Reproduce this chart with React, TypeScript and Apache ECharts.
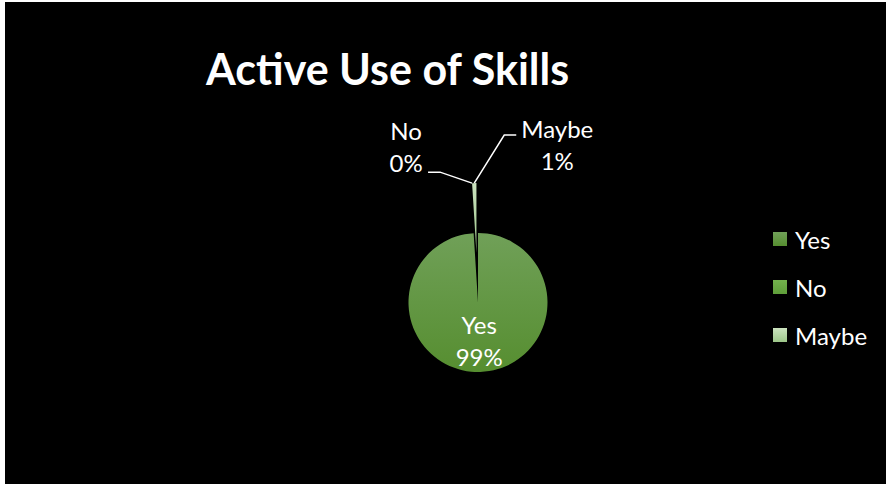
import React, { useEffect, useRef } from 'react';
import * as echarts from 'echarts';

const categories: string[] = ['Yes', 'No', 'Maybe'];
const values: number[] = [99, 0, 1];
const explodedName = 'Maybe';

const FONT = 'Lato, "Open Sans", sans-serif';

export default function App() {
  const ref = useRef<HTMLDivElement>(null);
  useEffect(() => {
    if (!ref.current) return;
    const chart = echarts.init(ref.current, null, { renderer: 'svg' });
    const grad = (top: string, bottom: string) =>
      new echarts.graphic.LinearGradient(0, 0, 0, 1, [
        { offset: 0, color: top },
        { offset: 1, color: bottom },
      ]);
    const palette = [
      grad('#70a058', '#568e30'),
      grad('#73b24d', '#5f9e3a'),
      grad('#cbe2bf', '#9cc689'),
    ];
    const center = [473, 300.5];
    const radius = 69.5;
    const explodeDist = 50;
    // mid angle of the exploded slice, computed from the data
    const total = values.reduce((a, b) => a + b, 0);
    const exIdx = categories.indexOf(explodedName);
    const before = values.slice(0, exIdx).reduce((a, b) => a + b, 0);
    const midFrac = (before + values[exIdx] / 2) / total;
    const theta = ((90 - 360 * midFrac) * Math.PI) / 180;
    const exCenter = [
      center[0] + explodeDist * Math.cos(theta),
      center[1] - explodeDist * Math.sin(theta),
    ];

    const mainData = categories.map((name, i) => ({
      name,
      value: values[i],
      itemStyle: { color: name === explodedName ? 'transparent' : palette[i] },
      label: { show: i === 0, position: 'inside' as const },
      labelLine: { show: false },
    }));
    const exData = categories.map((name, i) => ({
      name,
      value: values[i],
      itemStyle: { color: name === explodedName ? palette[i] : 'transparent' },
      label: { show: i !== 0, position: 'outside' as const },
      labelLine: { show: i !== 0 },
    }));
    const labelStyle = {
      formatter: '{b}\n{d}%',
      color: '#fff',
      fontSize: 24,
      lineHeight: 32,
      fontFamily: FONT,
      align: 'center' as const,
    };
    chart.setOption({
      animation: false,
      backgroundColor: '#000',
      title: {
        text: 'Active Use of Skills',
        left: 201,
        top: 45,
        padding: 0,
        textStyle: { color: '#fff', fontSize: 43, fontWeight: 'bold', fontFamily: FONT },
      },
      legend: {
        orient: 'vertical',
        left: 768,
        top: 225,
        padding: 0,
        icon: 'rect',
        itemWidth: 14,
        itemHeight: 14,
        itemGap: 24,
        selectedMode: false,
        data: categories.map((name, i) => ({ name, itemStyle: { color: palette[i] } })),
        textStyle: { color: '#fff', fontSize: 24, lineHeight: 24, fontFamily: FONT, padding: [0, 0, 0, 3] },
      },
      series: [
        {
          type: 'pie',
          center,
          radius,
          startAngle: 90,
          clockwise: true,
          silent: true,
          avoidLabelOverlap: false,
          percentPrecision: 0,
          label: labelStyle,
          data: mainData,
        },
        {
          type: 'pie',
          center: exCenter,
          radius,
          startAngle: 90,
          clockwise: true,
          silent: true,
          avoidLabelOverlap: false,
          percentPrecision: 0,
          label: labelStyle,
          labelLine: { show: true, lineStyle: { color: '#fff', width: 1.5 } },
          labelLayout: (p: any) => {
            const pts = p.labelLinePoints;
            if (!pts || p.dataIndex === 0) return {};
            const tx = pts[0][0];
            const ty = pts[0][1];
            if (p.dataIndex === 2) {
              return {
                x: tx + 83,
                y: ty - 39,
                align: 'center',
                verticalAlign: 'middle',
                labelLinePoints: [
                  [tx, ty],
                  [tx + 30, ty - 48],
                  [tx + 42, ty - 48],
                ],
              };
            }
            return {
              x: tx - 66,
              y: ty - 37,
              align: 'center',
              verticalAlign: 'middle',
              labelLinePoints: [
                [tx, ty],
                [tx - 32, ty - 11],
                [tx - 44, ty - 11],
              ],
            };
          },
          data: exData,
        },
      ],
    });
    return () => chart.dispose();
  }, []);
  return (
    <div style={{ position: 'fixed', left: 0, top: 0, width: 891, height: 487, background: '#fff' }}>
      <div
        ref={ref}
        style={{ position: 'absolute', left: 5, top: 2, width: 881, height: 482, background: '#000' }}
      />
    </div>
  );
}
